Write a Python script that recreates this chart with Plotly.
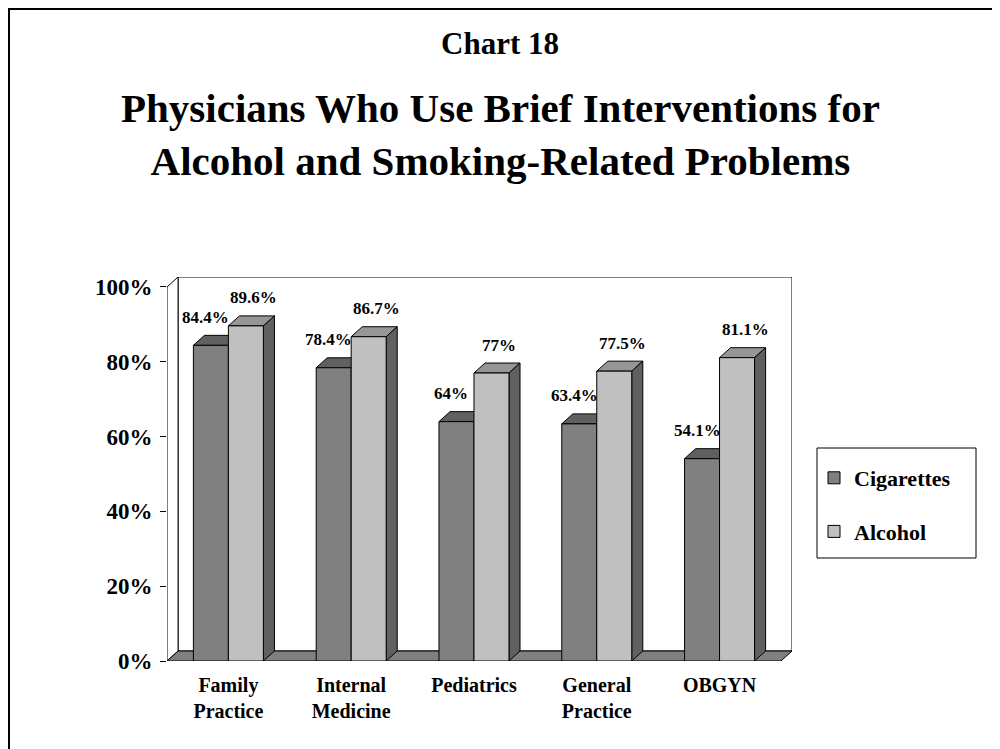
import plotly.graph_objects as go

# ---------------- data ----------------
categories = ["Family<br>Practice", "Internal<br>Medicine", "Pediatrics",
              "General<br>Practice", "OBGYN"]
series_names = ["Cigarettes", "Alcohol"]
cigarettes = [84.4, 78.4, 64.0, 63.4, 54.1]
alcohol = [89.6, 86.7, 77.0, 77.5, 81.1]
y_ticks = [0, 20, 40, 60, 80, 100]
y_tick_labels = ["0%", "20%", "40%", "60%", "80%", "100%"]

# ---------------- layout geometry / style ----------------
W, H = 1000, 749
OFF = 8                                  # page offset of the figure (body margin)
L, R, T, B = 167, 792, 277, 661          # plot area in page pixels
DX, DY = 0.09, 2.67                      # 3-D depth (x in category units, y in %)
BW = 0.285                               # bar width (category units)
FONT = "Liberation Serif, Times New Roman, serif"

front_col = ["#808080", "#c0c0c0"]
top_col = ["#606060", "#969696"]
side_col = ["#4a4a4a", "#606060"]
floor_col = "#808080"


def px_x(p):
    return (p - L) / (R - L)


def px_y(p):
    return (B - p) / (B - T)


n = len(categories)
xs = list(range(n))
values = [cigarettes, alcohol]
offsets = [-BW, 0.0]

fig = go.Figure()

for k in range(2):
    fig.add_trace(go.Bar(
        x=xs, y=values[k], name=series_names[k], legendgroup=series_names[k],
        width=BW, offset=offsets[k],
        marker=dict(color=front_col[k], line=dict(color="black", width=1)),
        hoverinfo="skip",
    ))

shapes = []
line = dict(color="black", width=1)
x0, x1 = -0.5, n - 0.5
# back wall
shapes.append(dict(type="rect", xref="x", yref="y", x0=x0 + DX, x1=x1 + DX,
                   y0=DY, y1=100 + DY, fillcolor="white", line=line, layer="below"))
# left wall
shapes.append(dict(type="path", xref="x", yref="y",
                   path=f"M{x0},0 L{x0},100 L{x0+DX},{100+DY} L{x0+DX},{DY} Z",
                   fillcolor="white", line=line, layer="below"))
# floor
shapes.append(dict(type="path", xref="x", yref="y",
                   path=f"M{x0},0 L{x1},0 L{x1+DX},{DY} L{x0+DX},{DY} Z",
                   fillcolor=floor_col, line=line, layer="below"))

annotations = []
for i in xs:
    for k in range(2):
        v = values[k][i]
        xl = i + offsets[k]
        xr = xl + BW
        # top face
        shapes.append(dict(type="path", xref="x", yref="y",
                           path=f"M{xl},{v} L{xl+DX},{v+DY} L{xr+DX},{v+DY} L{xr},{v} Z",
                           fillcolor=top_col[k], line=line, layer="below"))
        # side face
        shapes.append(dict(type="path", xref="x", yref="y",
                           path=f"M{xr},0 L{xr+DX},{DY} L{xr+DX},{v+DY} L{xr},{v} Z",
                           fillcolor=side_col[k], line=line, layer="below"))
        annotations.append(dict(
            x=xl + BW / 2, y=v, xref="x", yref="y", text=f"{v:g}%",
            showarrow=False, yanchor="middle", xanchor="center",
            yshift=28, xshift=(-5 if k == 0 else 8),
            font=dict(size=17, family=FONT, color="black", weight="bold")))

# outer frame
shapes.append(dict(type="rect", xref="paper", yref="paper",
                   x0=px_x(9), x1=px_x(998), y0=px_y(775), y1=px_y(9),
                   line=dict(color="black", width=2), fillcolor="rgba(0,0,0,0)"))
# legend box
shapes.append(dict(type="rect", xref="paper", yref="paper",
                   x0=px_x(817), x1=px_x(976), y0=px_y(558), y1=px_y(448),
                   line=dict(color="black", width=1), fillcolor="white", layer="below"))

annotations.append(dict(text="Chart 18", x=px_x(500), y=px_y(43), xref="paper", yref="paper",
                        showarrow=False, xanchor="center", yanchor="middle",
                        font=dict(size=31, family=FONT, color="black", weight="bold")))
annotations.append(dict(text="Physicians Who Use Brief Interventions for<br>Alcohol and Smoking-Related Problems",
                        x=px_x(500), y=px_y(134), xref="paper", yref="paper",
                        showarrow=False, xanchor="center", yanchor="middle",
                        font=dict(size=41, family=FONT, color="black", weight="bold")))

fig.update_layout(
    width=W, height=H,
    margin=dict(l=L - OFF, r=W - (R - OFF), t=T - OFF, b=H - (B - OFF), pad=0),
    paper_bgcolor="white", plot_bgcolor="white",
    font=dict(family=FONT, color="black", weight="bold"),
    barmode="group",
    shapes=shapes, annotations=annotations,
    showlegend=True,
    legend=dict(x=px_x(814), y=px_y(457), xanchor="left", yanchor="top",
                bgcolor="rgba(0,0,0,0)", borderwidth=0,
                font=dict(size=22, family=FONT, color="black", weight="bold"),
                tracegroupgap=22, traceorder="grouped"),
    xaxis=dict(range=[x0, x1 + DX], tickmode="array", tickvals=xs, ticktext=categories,
               ticks="", showline=False, showgrid=False, zeroline=False,
               tickfont=dict(size=20, family=FONT, color="black", weight="bold"),
               ticklabelstandoff=10, fixedrange=True),
    xaxis2=dict(range=[x0, x1 + DX], overlaying="x", anchor="y", side="bottom",
                tickmode="array", tickvals=[x0 + j for j in range(n + 1)],
                ticktext=["" for _ in range(n + 1)],
                ticks="outside", ticklen=8, tickcolor="black", tickwidth=1,
                showline=False, showgrid=False, zeroline=False, showticklabels=False),
    yaxis=dict(range=[0, 100 + DY], tickmode="array", tickvals=y_ticks, ticktext=y_tick_labels,
               ticks="outside", ticklen=6, tickcolor="black", tickwidth=1,
               showline=False, showgrid=False, zeroline=False,
               tickfont=dict(size=23, family=FONT, color="black", weight="bold"),
               ticklabelstandoff=3, fixedrange=True),
)

fig.write_html("out.html")
